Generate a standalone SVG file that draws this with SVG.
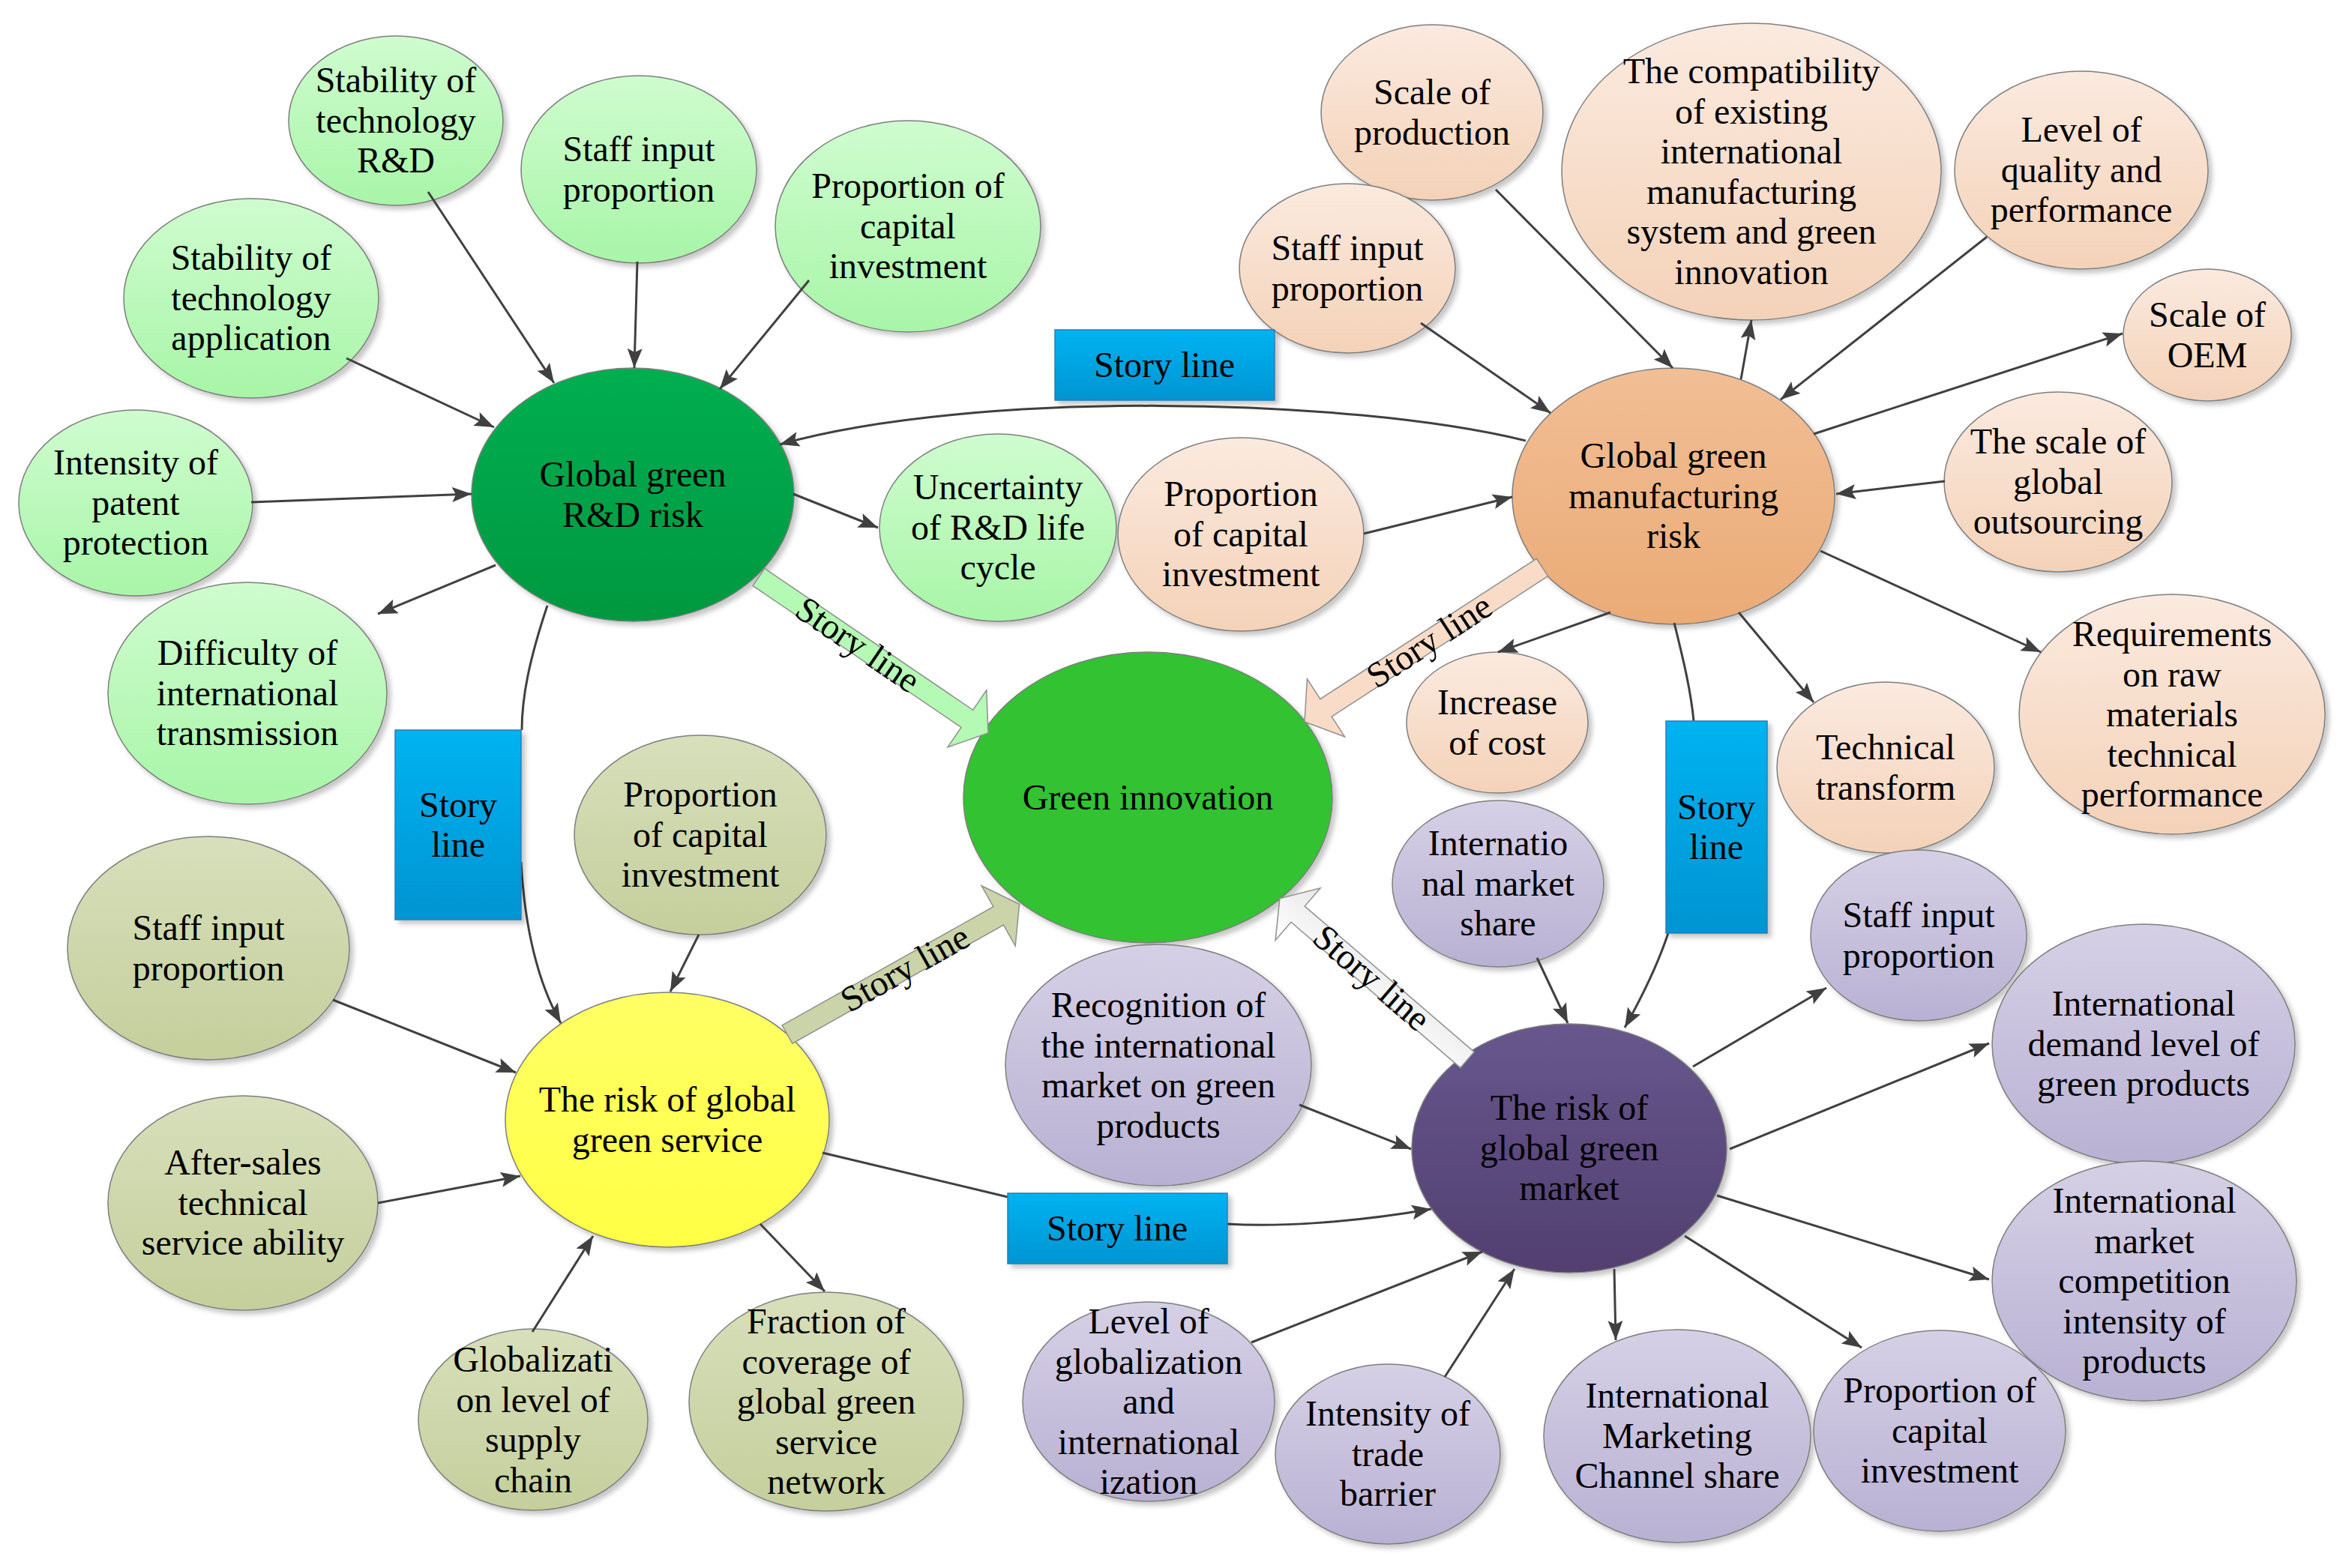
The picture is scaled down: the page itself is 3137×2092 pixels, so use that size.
<svg xmlns="http://www.w3.org/2000/svg" width="3137" height="2092" viewBox="0 0 3137 2092" font-family="'Liberation Serif', 'Times New Roman', serif">
<defs>
<style>
.t{font-family:'Liberation Serif','Times New Roman',serif;font-size:48px;fill:#000;text-anchor:middle}
.n{stroke:#7f7f7f;stroke-width:1.5;filter:url(#sh)}
.c{fill:none;stroke:#404040;stroke-width:3}
.a{marker-end:url(#ah)}
.box{fill:url(#gBox);stroke:#2a7fb8;stroke-width:1.5;filter:url(#sh)}
.blk{stroke:#909090;stroke-width:1.5}
</style>
<filter id="sh" x="-10%" y="-10%" width="125%" height="125%">
<feDropShadow dx="5" dy="5" stdDeviation="3" flood-color="#000" flood-opacity="0.22"/>
</filter>
<marker id="ah" markerUnits="userSpaceOnUse" markerWidth="28" markerHeight="22" refX="26" refY="10" orient="auto">
<path d="M0,0 L26,10 L0,20 L5,10 z" fill="#404040"/>
</marker>
<linearGradient id="gRD" x1="0" y1="0" x2="0" y2="1"><stop offset="0" stop-color="#cffccf"/><stop offset="1" stop-color="#a8f5a8"/></linearGradient>
<linearGradient id="gRDm" x1="0" y1="0" x2="0" y2="1"><stop offset="0" stop-color="#00ae50"/><stop offset="1" stop-color="#009840"/></linearGradient>
<linearGradient id="gMF" x1="0" y1="0" x2="0" y2="1"><stop offset="0" stop-color="#fbeadf"/><stop offset="1" stop-color="#f4d2b8"/></linearGradient>
<linearGradient id="gMFm" x1="0" y1="0" x2="0" y2="1"><stop offset="0" stop-color="#f2be95"/><stop offset="1" stop-color="#eaab76"/></linearGradient>
<linearGradient id="gSV" x1="0" y1="0" x2="0" y2="1"><stop offset="0" stop-color="#d8dfbb"/><stop offset="1" stop-color="#c4cf9c"/></linearGradient>
<linearGradient id="gSVm" x1="0" y1="0" x2="0" y2="1"><stop offset="0" stop-color="#ffff66"/><stop offset="1" stop-color="#ffff44"/></linearGradient>
<linearGradient id="gMK" x1="0" y1="0" x2="0" y2="1"><stop offset="0" stop-color="#d6d0e6"/><stop offset="1" stop-color="#b9b1d3"/></linearGradient>
<linearGradient id="gMKm" x1="0" y1="0" x2="0" y2="1"><stop offset="0" stop-color="#67578d"/><stop offset="1" stop-color="#523f70"/></linearGradient>
<linearGradient id="gBox" x1="0" y1="0" x2="0" y2="1"><stop offset="0" stop-color="#00b3f1"/><stop offset="1" stop-color="#0094d2"/></linearGradient>
<linearGradient id="gArW" x1="0" y1="0" x2="0" y2="1"><stop offset="0" stop-color="#ffffff"/><stop offset="1" stop-color="#e8e8e8"/></linearGradient>
</defs>
<rect width="3137" height="2092" fill="#fff"/>

<!-- R&D group -->
<g id="n-rd-stab-rd"><ellipse class="n" cx="528" cy="161" rx="143" ry="113" fill="url(#gRD)"/><text class="t" x="528" y="123"><tspan x="528">Stability of</tspan><tspan x="528" dy="53.6">technology</tspan><tspan x="528" dy="53.6">R&amp;D</tspan></text></g>
<g id="n-rd-staff"><ellipse class="n" cx="852" cy="226" rx="157" ry="125" fill="url(#gRD)"/><text class="t" x="852" y="215"><tspan x="852">Staff input</tspan><tspan x="852" dy="53.6">proportion</tspan></text></g>
<g id="n-rd-capital"><ellipse class="n" cx="1211" cy="302" rx="177" ry="141" fill="url(#gRD)"/><text class="t" x="1211" y="264"><tspan x="1211">Proportion of</tspan><tspan x="1211" dy="53.6">capital</tspan><tspan x="1211" dy="53.6">investment</tspan></text></g>
<g id="n-rd-stab-app"><ellipse class="n" cx="335" cy="398" rx="170" ry="133" fill="url(#gRD)"/><text class="t" x="335" y="360"><tspan x="335">Stability of</tspan><tspan x="335" dy="53.6">technology</tspan><tspan x="335" dy="53.6">application</tspan></text></g>
<g id="n-rd-patent"><ellipse class="n" cx="181" cy="671" rx="156" ry="124" fill="url(#gRD)"/><text class="t" x="181" y="633"><tspan x="181">Intensity of</tspan><tspan x="181" dy="53.6">patent</tspan><tspan x="181" dy="53.6">protection</tspan></text></g>
<g id="n-rd-diff"><ellipse class="n" cx="330" cy="925" rx="186" ry="148" fill="url(#gRD)"/><text class="t" x="330" y="887"><tspan x="330">Difficulty of</tspan><tspan x="330" dy="53.6">international</tspan><tspan x="330" dy="53.6">transmission</tspan></text></g>
<g id="n-rd-uncert"><ellipse class="n" cx="1331" cy="704" rx="158" ry="125" fill="url(#gRD)"/><text class="t" x="1331" y="666"><tspan x="1331">Uncertainty</tspan><tspan x="1331" dy="53.6">of R&amp;D life</tspan><tspan x="1331" dy="53.6">cycle</tspan></text></g>
<g id="n-rd-main"><ellipse class="n" cx="844" cy="660" rx="215" ry="169" fill="url(#gRDm)"/><text class="t" x="844" y="649"><tspan x="844">Global green</tspan><tspan x="844" dy="53.6">R&amp;D risk</tspan></text></g>

<!-- Green innovation -->
<g id="n-green-innovation"><ellipse class="n" cx="1531" cy="1064" rx="246" ry="194" fill="#32c232"/><text class="t" x="1531" y="1080">Green innovation</text></g>

<!-- Manufacturing group -->
<g id="n-mf-scale"><ellipse class="n" cx="1910" cy="150" rx="148" ry="117" fill="url(#gMF)"/><text class="t" x="1910" y="139"><tspan x="1910">Scale of</tspan><tspan x="1910" dy="53.6">production</tspan></text></g>
<g id="n-mf-compat"><ellipse class="n" cx="2336" cy="229" rx="253" ry="198" fill="url(#gMF)"/><text class="t" x="2336" y="111"><tspan x="2336">The compatibility</tspan><tspan x="2336" dy="53.6">of existing</tspan><tspan x="2336" dy="53.6">international</tspan><tspan x="2336" dy="53.6">manufacturing</tspan><tspan x="2336" dy="53.6">system and green</tspan><tspan x="2336" dy="53.6">innovation</tspan></text></g>
<g id="n-mf-level"><ellipse class="n" cx="2776" cy="227" rx="169" ry="132" fill="url(#gMF)"/><text class="t" x="2776" y="189"><tspan x="2776">Level of</tspan><tspan x="2776" dy="53.6">quality and</tspan><tspan x="2776" dy="53.6">performance</tspan></text></g>
<g id="n-mf-staff"><ellipse class="n" cx="1797" cy="358" rx="144" ry="113" fill="url(#gMF)"/><text class="t" x="1797" y="347"><tspan x="1797">Staff input</tspan><tspan x="1797" dy="53.6">proportion</tspan></text></g>
<g id="n-mf-oem"><ellipse class="n" cx="2944" cy="447" rx="112" ry="88" fill="url(#gMF)"/><text class="t" x="2944" y="436"><tspan x="2944">Scale of</tspan><tspan x="2944" dy="53.6">OEM</tspan></text></g>
<g id="n-mf-outsourcing"><ellipse class="n" cx="2745" cy="643" rx="152" ry="120" fill="url(#gMF)"/><text class="t" x="2745" y="605"><tspan x="2745">The scale of</tspan><tspan x="2745" dy="53.6">global</tspan><tspan x="2745" dy="53.6">outsourcing</tspan></text></g>
<g id="n-mf-capital"><ellipse class="n" cx="1655" cy="713" rx="164" ry="129" fill="url(#gMF)"/><text class="t" x="1655" y="675"><tspan x="1655">Proportion</tspan><tspan x="1655" dy="53.6">of capital</tspan><tspan x="1655" dy="53.6">investment</tspan></text></g>
<g id="n-mf-req"><ellipse class="n" cx="2897" cy="953" rx="204" ry="160" fill="url(#gMF)"/><text class="t" x="2897" y="862"><tspan x="2897">Requirements</tspan><tspan x="2897" dy="53.6">on raw</tspan><tspan x="2897" dy="53.6">materials</tspan><tspan x="2897" dy="53.6">technical</tspan><tspan x="2897" dy="53.6">performance</tspan></text></g>
<g id="n-mf-cost"><ellipse class="n" cx="1997" cy="964" rx="121" ry="94" fill="url(#gMF)"/><text class="t" x="1997" y="953"><tspan x="1997">Increase</tspan><tspan x="1997" dy="53.6">of cost</tspan></text></g>
<g id="n-mf-tech"><ellipse class="n" cx="2515" cy="1024" rx="145" ry="114" fill="url(#gMF)"/><text class="t" x="2515" y="1013"><tspan x="2515">Technical</tspan><tspan x="2515" dy="53.6">transform</tspan></text></g>
<g id="n-mf-main"><ellipse class="n" cx="2232" cy="662" rx="215" ry="171" fill="url(#gMFm)"/><text class="t" x="2232" y="624"><tspan x="2232">Global green</tspan><tspan x="2232" dy="53.6">manufacturing</tspan><tspan x="2232" dy="53.6">risk</tspan></text></g>

<!-- Service group -->
<g id="n-sv-capital"><ellipse class="n" cx="934" cy="1114" rx="168" ry="133" fill="url(#gSV)"/><text class="t" x="934" y="1076"><tspan x="934">Proportion</tspan><tspan x="934" dy="53.6">of capital</tspan><tspan x="934" dy="53.6">investment</tspan></text></g>
<g id="n-sv-staff"><ellipse class="n" cx="278" cy="1265" rx="188" ry="149" fill="url(#gSV)"/><text class="t" x="278" y="1254"><tspan x="278">Staff input</tspan><tspan x="278" dy="53.6">proportion</tspan></text></g>
<g id="n-sv-aftersales"><ellipse class="n" cx="324" cy="1605" rx="180" ry="143" fill="url(#gSV)"/><text class="t" x="324" y="1567"><tspan x="324">After-sales</tspan><tspan x="324" dy="53.6">technical</tspan><tspan x="324" dy="53.6">service ability</tspan></text></g>
<g id="n-sv-glob"><ellipse class="n" cx="711" cy="1894" rx="153" ry="121" fill="url(#gSV)"/><text class="t" x="711" y="1830"><tspan x="711">Globalizati</tspan><tspan x="711" dy="53.6">on level of</tspan><tspan x="711" dy="53.6">supply</tspan><tspan x="711" dy="53.6">chain</tspan></text></g>
<g id="n-sv-fraction"><ellipse class="n" cx="1102" cy="1870" rx="183" ry="146" fill="url(#gSV)"/><text class="t" x="1102" y="1779"><tspan x="1102">Fraction of</tspan><tspan x="1102" dy="53.6">coverage of</tspan><tspan x="1102" dy="53.6">global green</tspan><tspan x="1102" dy="53.6">service</tspan><tspan x="1102" dy="53.6">network</tspan></text></g>
<g id="n-sv-main"><ellipse class="n" cx="890" cy="1494" rx="216" ry="170" fill="url(#gSVm)"/><text class="t" x="890" y="1483"><tspan x="890">The risk of global</tspan><tspan x="890" dy="53.6">green service</tspan></text></g>

<!-- Market group -->
<g id="n-mk-share"><ellipse class="n" cx="1998" cy="1179" rx="141" ry="111" fill="url(#gMK)"/><text class="t" x="1998" y="1141"><tspan x="1998">Internatio</tspan><tspan x="1998" dy="53.6">nal market</tspan><tspan x="1998" dy="53.6">share</tspan></text></g>
<g id="n-mk-staff"><ellipse class="n" cx="2559" cy="1248" rx="144" ry="114" fill="url(#gMK)"/><text class="t" x="2559" y="1237"><tspan x="2559">Staff input</tspan><tspan x="2559" dy="53.6">proportion</tspan></text></g>
<g id="n-mk-recog"><ellipse class="n" cx="1545" cy="1421" rx="204" ry="161" fill="url(#gMK)"/><text class="t" x="1545" y="1357"><tspan x="1545">Recognition of</tspan><tspan x="1545" dy="53.6">the international</tspan><tspan x="1545" dy="53.6">market on green</tspan><tspan x="1545" dy="53.6">products</tspan></text></g>
<g id="n-mk-demand"><ellipse class="n" cx="2859" cy="1393" rx="202" ry="160" fill="url(#gMK)"/><text class="t" x="2859" y="1355"><tspan x="2859">International</tspan><tspan x="2859" dy="53.6">demand level of</tspan><tspan x="2859" dy="53.6">green products</tspan></text></g>
<g id="n-mk-compet"><ellipse class="n" cx="2860" cy="1709" rx="203" ry="160" fill="url(#gMK)"/><text class="t" x="2860" y="1618"><tspan x="2860">International</tspan><tspan x="2860" dy="53.6">market</tspan><tspan x="2860" dy="53.6">competition</tspan><tspan x="2860" dy="53.6">intensity of</tspan><tspan x="2860" dy="53.6">products</tspan></text></g>
<g id="n-mk-glob"><ellipse class="n" cx="1532" cy="1870" rx="168" ry="133" fill="url(#gMK)"/><text class="t" x="1532" y="1779"><tspan x="1532">Level of</tspan><tspan x="1532" dy="53.6">globalization</tspan><tspan x="1532" dy="53.6">and</tspan><tspan x="1532" dy="53.6">international</tspan><tspan x="1532" dy="53.6">ization</tspan></text></g>
<g id="n-mk-trade"><ellipse class="n" cx="1851" cy="1940" rx="150" ry="120" fill="url(#gMK)"/><text class="t" x="1851" y="1902"><tspan x="1851">Intensity of</tspan><tspan x="1851" dy="53.6">trade</tspan><tspan x="1851" dy="53.6">barrier</tspan></text></g>
<g id="n-mk-channel"><ellipse class="n" cx="2237" cy="1916" rx="178" ry="142" fill="url(#gMK)"/><text class="t" x="2237" y="1878"><tspan x="2237">International</tspan><tspan x="2237" dy="53.6">Marketing</tspan><tspan x="2237" dy="53.6">Channel share</tspan></text></g>
<g id="n-mk-capital"><ellipse class="n" cx="2587" cy="1909" rx="168" ry="134" fill="url(#gMK)"/><text class="t" x="2587" y="1871"><tspan x="2587">Proportion of</tspan><tspan x="2587" dy="53.6">capital</tspan><tspan x="2587" dy="53.6">investment</tspan></text></g>
<g id="n-mk-main"><ellipse class="n" cx="2093" cy="1532" rx="210" ry="166" fill="url(#gMKm)"/><text class="t" x="2093" y="1494"><tspan x="2093">The risk of</tspan><tspan x="2093" dy="53.6">global green</tspan><tspan x="2093" dy="53.6">market</tspan></text></g>

<!-- Story line block arrows -->
<g id="storyline-arrows">
<g transform="translate(1012,770) rotate(34.2)"><polygon class="blk" points="0,-14 336,-14 336,-46 370,0 336,46 336,14 0,14" fill="#b4f9b4"/><text class="t" x="160" y="16">Story line</text></g>
<g transform="translate(2057,757) rotate(147)"><polygon class="blk" points="0,-14 344,-14 344,-46 378,0 344,46 344,14 0,14" fill="#f8dcc7"/><text class="t" x="180" y="16" transform="rotate(180 180 0)">Story line</text></g>
<g transform="translate(1050,1380) rotate(-29.3)"><polygon class="blk" points="0,-14 323,-14 323,-46 355,0 323,46 323,14 0,14" fill="#cbd4a9"/><text class="t" x="180" y="16">Story line</text></g>
<g transform="translate(1957,1414) rotate(220.7)"><polygon class="blk" points="0,-14 298,-14 298,-46 330,0 298,46 298,14 0,14" fill="url(#gArW)"/><text class="t" x="168" y="16" transform="rotate(180 168 0)">Story line</text></g>
</g>

<!-- Connectors -->
<g id="connectors">
<path class="c a" d="M571,256 L739,511"/>
<path class="c a" d="M850,349 L846,491"/>
<path class="c a" d="M1079,374 L960,519"/>
<path class="c a" d="M462,478 L659,570"/>
<path class="c a" d="M335,670 L629,659"/>
<path class="c a" d="M661,754 L504,819"/>
<path class="c a" d="M1058,659 L1171,704"/>
<path class="c a" d="M2035,588 C1800,530 1300,520 1040,593"/>
<path class="c" d="M730,808 C706,880 696,930 696,974"/>
<path class="c a" d="M695,1150 C700,1240 718,1312 748,1365"/>
<path class="c a" d="M1995,253 L2231,491"/>
<path class="c a" d="M2322,506 L2336,427"/>
<path class="c a" d="M2650,316 L2375,533"/>
<path class="c a" d="M1895,431 L2068,551"/>
<path class="c a" d="M2419,579 L2831,445"/>
<path class="c a" d="M2594,642 L2449,659"/>
<path class="c a" d="M1819,712 L2017,663"/>
<path class="c a" d="M2428,735 L2722,870"/>
<path class="c a" d="M2148,817 L1998,870"/>
<path class="c a" d="M2319,817 L2419,937"/>
<path class="c" d="M2233,831 C2245,880 2255,920 2259,962"/>
<path class="c a" d="M2225,1245 C2210,1290 2190,1330 2167,1371"/>
<path class="c a" d="M932,1247 L894,1323"/>
<path class="c a" d="M444,1334 L688,1431"/>
<path class="c a" d="M504,1605 L694,1569"/>
<path class="c a" d="M710,1777 L791,1649"/>
<path class="c a" d="M1014,1633 L1100,1723"/>
<path class="c" d="M1097,1538 L1344,1597"/>
<path class="c a" d="M1637,1633 C1700,1637 1800,1632 1909,1613"/>
<path class="c a" d="M2050,1278 L2091,1365"/>
<path class="c a" d="M1733,1474 L1882,1533"/>
<path class="c a" d="M2258,1423 L2436,1318"/>
<path class="c a" d="M2307,1533 L2653,1392"/>
<path class="c a" d="M2290,1595 L2653,1707"/>
<path class="c a" d="M2247,1649 L2483,1798"/>
<path class="c a" d="M2153,1693 L2155,1788"/>
<path class="c a" d="M1927,1837 L2020,1693"/>
<path class="c a" d="M1669,1791 L1977,1670"/>
</g>

<!-- Story line boxes -->
<g id="box-top"><rect class="box" x="1407" y="440" width="293" height="94"/><text class="t" x="1553" y="503">Story line</text></g>
<g id="box-left"><rect class="box" x="527" y="974" width="168" height="253"/><text class="t" x="611" y="1090"><tspan x="611">Story</tspan><tspan x="611" dy="53">line</tspan></text></g>
<g id="box-bottom"><rect class="box" x="1344" y="1592" width="293" height="94"/><text class="t" x="1490" y="1655">Story line</text></g>
<g id="box-right"><rect class="box" x="2222" y="962" width="135" height="283"/><text class="t" x="2289" y="1093"><tspan x="2289">Story</tspan><tspan x="2289" dy="53">line</tspan></text></g>
</svg>
